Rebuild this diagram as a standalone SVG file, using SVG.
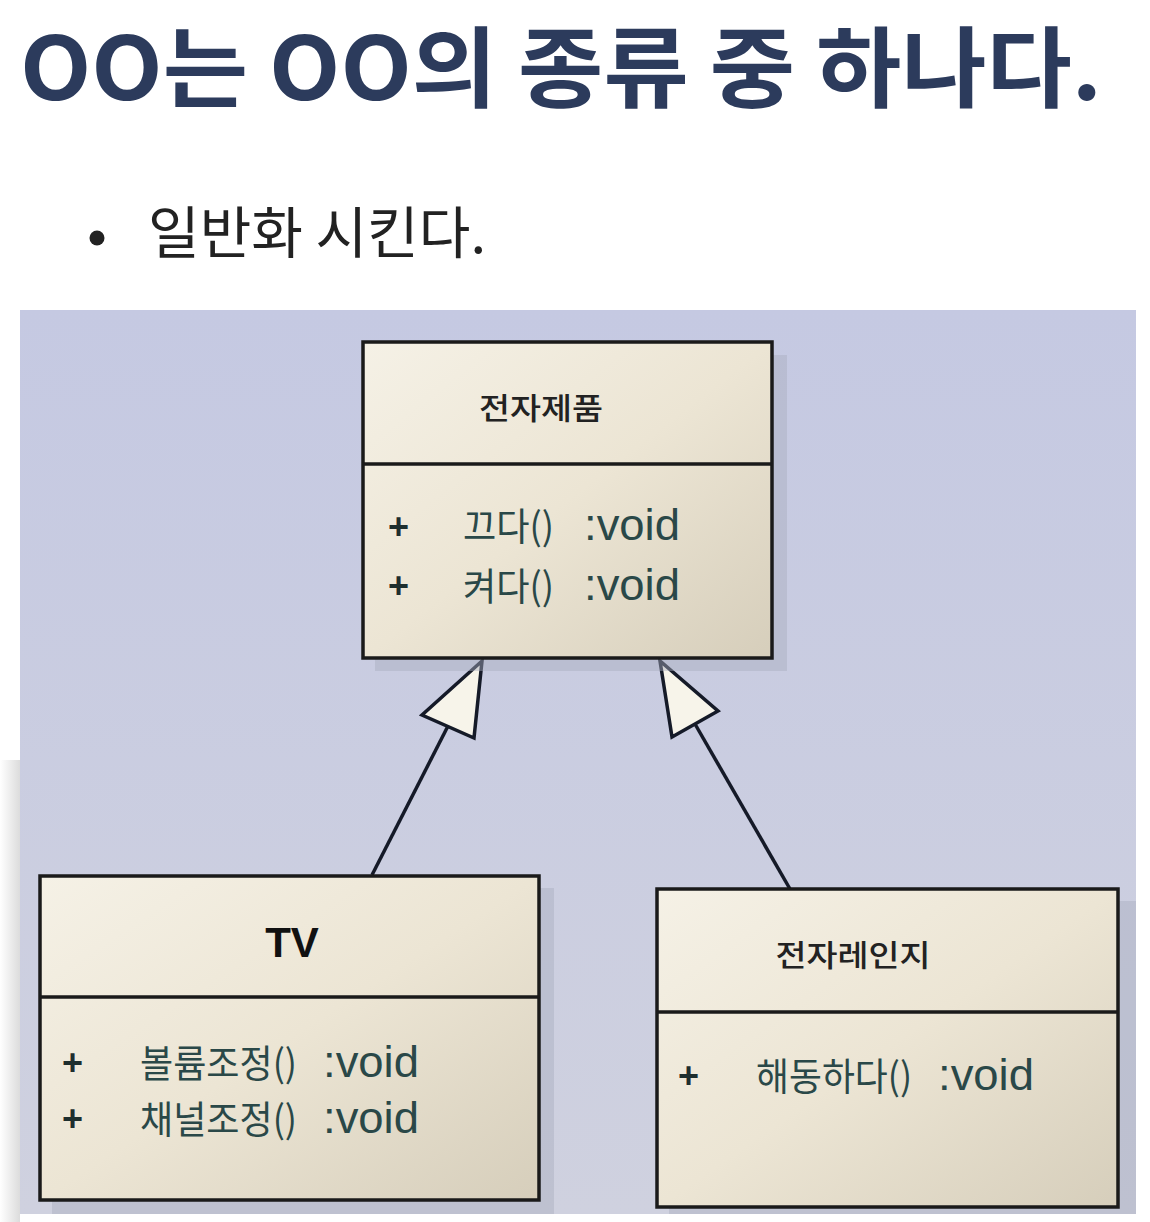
<svg xmlns="http://www.w3.org/2000/svg" width="1150" height="1222" viewBox="0 0 1150 1222">
<style>
.title{font-family:"Noto Sans CJK KR","Noto Sans",sans-serif;font-weight:700;font-size:88px;fill:#2c3b5c}
.sub{font-family:"Noto Sans CJK KR","Noto Sans",sans-serif;font-size:56px;fill:#222}
.box{fill:url(#beige);stroke:#1a1a1a;stroke-width:3.5}
.shadow{fill:#a9acbf;opacity:0.45}
.div{stroke:#1a1a1a;stroke-width:3.5}
.cname{font-family:"Noto Sans CJK KR","Noto Sans",sans-serif;font-weight:500;font-size:30px;fill:#222;text-anchor:middle}
.tv{font-family:"Liberation Sans",Arial,sans-serif;font-weight:700;font-size:42px;fill:#111;text-anchor:middle}
.plus{font-family:"Liberation Sans",Arial,sans-serif;font-weight:700;font-size:36px;fill:#1e2e2e}
.meth{font-family:"Noto Sans CJK KR","Noto Sans",sans-serif;font-size:38px;fill:#2a4848}
.void{font-family:"Liberation Sans",Arial,sans-serif;font-size:45px;fill:#2a4848}
.conn{stroke:#151a28;stroke-width:3.5;fill:none}
.head{fill:#f7f4ea;stroke:#151a28;stroke-width:3.5;stroke-linejoin:miter}
</style>
<defs>
<linearGradient id="panel" x1="0" y1="0" x2="0" y2="1">
<stop offset="0" stop-color="#c5c9e2"/>
<stop offset="1" stop-color="#cfd1df"/>
</linearGradient>
<linearGradient id="beige" x1="0" y1="0" x2="1" y2="1">
<stop offset="0" stop-color="#f5f1e6"/>
<stop offset="0.5" stop-color="#ece5d4"/>
<stop offset="1" stop-color="#d6cebb"/>
</linearGradient>
<linearGradient id="edge" x1="0" y1="0" x2="1" y2="0">
<stop offset="0" stop-color="#ffffff"/>
<stop offset="1" stop-color="#dcdcdc"/>
</linearGradient>
</defs>
<rect width="1150" height="1222" fill="#ffffff"/>
<rect x="0" y="760" width="20" height="462" fill="url(#edge)"/>
<text class="title" x="20" y="100" textLength="1082" lengthAdjust="spacingAndGlyphs">OO는 OO의 종류 중 하나다.</text>
<circle cx="97" cy="238" r="7.5" fill="#222"/>
<text class="sub" x="148" y="253" textLength="338" lengthAdjust="spacingAndGlyphs">일반화 시킨다.</text>
<rect x="20" y="310" width="1116" height="904" fill="url(#panel)"/>

<g id="connectors">
<line class="conn" x1="448" y1="726" x2="372" y2="875"/>
<polygon class="head" points="482,661 422,715 474,738"/>
<line class="conn" x1="695" y1="724" x2="790" y2="889"/>
<polygon class="head" points="660,661 672,737 718,711"/>
</g>

<g id="class-electronics">
<rect class="shadow" x="375" y="355" width="412" height="316"/>
<rect class="box" x="363" y="342" width="409" height="316"/>
<line class="div" x1="363" y1="464" x2="772" y2="464"/>
<text class="cname" x="541" y="419" textLength="124" lengthAdjust="spacingAndGlyphs">전자제품</text>
<text class="plus" x="388" y="539">+</text>
<text class="meth" x="463" y="540" textLength="91" lengthAdjust="spacingAndGlyphs">끄다()</text>
<text class="void" x="584" y="540" textLength="96" lengthAdjust="spacingAndGlyphs">:void</text>
<text class="plus" x="388" y="598">+</text>
<text class="meth" x="463" y="600" textLength="91" lengthAdjust="spacingAndGlyphs">켜다()</text>
<text class="void" x="584" y="600" textLength="96" lengthAdjust="spacingAndGlyphs">:void</text>
</g>

<g id="class-tv">
<rect class="shadow" x="52" y="888" width="502" height="326"/>
<rect class="box" x="40" y="876" width="499" height="324"/>
<line class="div" x1="40" y1="997" x2="539" y2="997"/>
<text class="tv" x="292" y="957">TV</text>
<text class="plus" x="62" y="1075">+</text>
<text class="meth" x="140" y="1077" textLength="157" lengthAdjust="spacingAndGlyphs">볼륨조정()</text>
<text class="void" x="323" y="1077" textLength="96" lengthAdjust="spacingAndGlyphs">:void</text>
<text class="plus" x="62" y="1131">+</text>
<text class="meth" x="140" y="1133" textLength="157" lengthAdjust="spacingAndGlyphs">채널조정()</text>
<text class="void" x="323" y="1133" textLength="96" lengthAdjust="spacingAndGlyphs">:void</text>
</g>

<g id="class-microwave">
<rect class="shadow" x="669" y="901" width="467" height="313"/>
<rect class="box" x="657" y="889" width="461" height="318"/>
<line class="div" x1="657" y1="1012" x2="1118" y2="1012"/>
<text class="cname" x="853" y="966" textLength="155" lengthAdjust="spacingAndGlyphs">전자레인지</text>
<text class="plus" x="678" y="1088">+</text>
<text class="meth" x="756" y="1090" textLength="156" lengthAdjust="spacingAndGlyphs">해동하다()</text>
<text class="void" x="938" y="1090" textLength="96" lengthAdjust="spacingAndGlyphs">:void</text>
</g>
</svg>
